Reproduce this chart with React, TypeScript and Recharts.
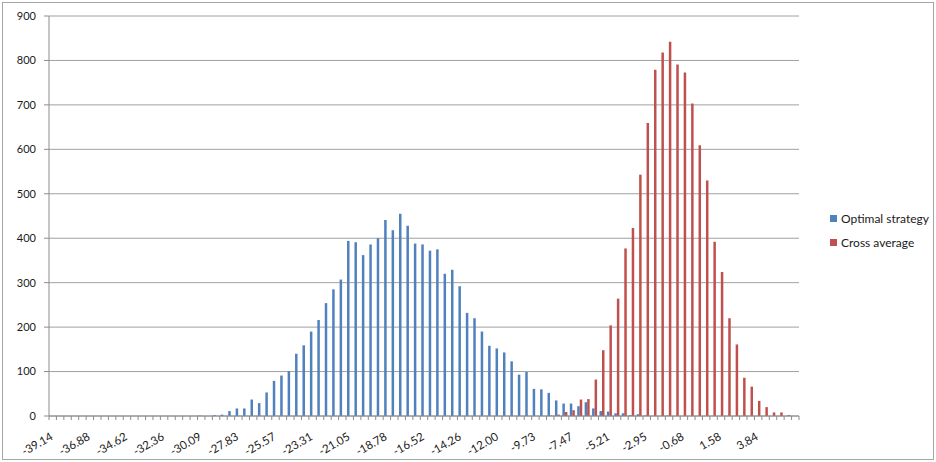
import { BarChart, Bar, XAxis, YAxis, CartesianGrid } from "recharts";

const categories = [
  "-39.14", "-38.69", "-38.24", "-37.78", "-37.33", "-36.88", "-36.43", "-35.97", "-35.52", "-35.07",
  "-34.62", "-34.16", "-33.71", "-33.26", "-32.81", "-32.36", "-31.90", "-31.45", "-31.00", "-30.54",
  "-30.09", "-29.64", "-29.19", "-28.74", "-28.28", "-27.83", "-27.38", "-26.93", "-26.47", "-26.02",
  "-25.57", "-25.12", "-24.66", "-24.21", "-23.76", "-23.31", "-22.85", "-22.40", "-21.95", "-21.50",
  "-21.05", "-20.59", "-20.14", "-19.69", "-19.23", "-18.78", "-18.33", "-17.88", "-17.42", "-16.97",
  "-16.52", "-16.07", "-15.61", "-15.16", "-14.71", "-14.26", "-13.80", "-13.35", "-12.90", "-12.45",
  "-12.00", "-11.54", "-11.09", "-10.64", "-10.19", "-9.73", "-9.28", "-8.83", "-8.38", "-7.92",
  "-7.47", "-7.02", "-6.57", "-6.11", "-5.66", "-5.21", "-4.76", "-4.30", "-3.85", "-3.40",
  "-2.95", "-2.49", "-2.04", "-1.59", "-1.14", "-0.68", "-0.23", "0.22", "0.67", "1.13",
  "1.58", "2.03", "2.48", "2.94", "3.39", "3.84", "4.29", "4.74", "5.20", "5.65",
  "6.10",
];

const optimal = [
  0, 0, 0, 0, 0, 0, 0, 0, 0, 0,
  0, 0, 0, 0, 0, 0, 0, 0, 0, 0,
  1, 0, 2, 3, 11, 17, 17, 37, 29, 53,
  79, 91, 101, 140, 159, 190, 216, 254, 285, 307,
  394, 391, 362, 386, 400, 441, 418, 455, 428, 388,
  386, 372, 375, 320, 329, 292, 232, 220, 190, 158,
  152, 143, 123, 93, 99, 61, 60, 52, 35, 28,
  28, 22, 31, 17, 11, 10, 6, 6, 2, 4,
  1, 0, 0, 1, 0, 0, 0, 0, 0, 0,
  0, 0, 0, 0, 0, 0, 0, 0, 0, 0,
  0,
];

const crossAvg = [
  0, 0, 0, 0, 0, 0, 0, 0, 0, 0,
  0, 0, 0, 0, 0, 0, 0, 0, 0, 0,
  0, 0, 0, 0, 0, 0, 0, 0, 0, 0,
  0, 0, 0, 0, 0, 0, 0, 0, 0, 0,
  0, 0, 0, 0, 0, 0, 0, 0, 0, 0,
  0, 0, 0, 0, 0, 0, 0, 0, 0, 0,
  0, 0, 0, 0, 0, 0, 0, 1, 3, 9,
  13, 37, 38, 82, 148, 204, 264, 377, 423, 543,
  659, 779, 818, 842, 791, 773, 703, 609, 530, 392,
  324, 220, 161, 86, 66, 34, 20, 8, 8, 2,
  0,
];

const yTicks = [0, 100, 200, 300, 400, 500, 600, 700, 800, 900];
const seriesNames = ["Optimal strategy", "Cross average"];
const seriesColors = ["#4F81BD", "#C0504D"];

const data = categories.map((c, i) => ({ bin: c, optimal: optimal[i], cross: crossAvg[i] }));

const FONT = "Lato, 'Liberation Sans', sans-serif";
const AXIS = "#8c8c8c";
const STEP = 750 / categories.length;

const XTick = (props: any) => {
  const { x, y, payload } = props;
  const i = payload.index;
  const half = payload.offset || STEP / 2;
  const lx = x + 1;
  const ly = y + 23;
  return (
    <g>
      <line x1={x - half} x2={x - half} y1={y} y2={y + 4} stroke={AXIS} />
      {i === categories.length - 1 && (
        <line x1={x + half} x2={x + half} y1={y} y2={y + 4} stroke={AXIS} />
      )}
      {i % 5 === 0 && i < categories.length - 1 && (
        <g transform={`translate(${lx},${ly}) rotate(-30)`}>
          <text x={0} y={0} textAnchor="end" fontSize={11.5} fontFamily={FONT} fill="#1a1a1a">
            {payload.value}
          </text>
        </g>
      )}
    </g>
  );
};

export default function App() {
  return (
    <div style={{ position: "absolute", left: 0, top: 0, width: 936, height: 462, background: "#fff", fontFamily: FONT }}>
      <div
        style={{
          position: "absolute",
          left: 2,
          top: 2,
          width: 930,
          height: 456,
          border: "1px solid #a6a6a6",
        }}
      />
      <BarChart
        width={936}
        height={462}
        data={data}
        margin={{ top: 16, right: 137, left: 0, bottom: 16 }}
        barGap={0}
        barSize={2.5}
      >
        <CartesianGrid vertical={false} stroke="#a0a0a0" />
        <XAxis
          dataKey="bin"
          interval={0}
          height={30}
          tickLine={false}
          tickSize={0}
          tickMargin={0}
          axisLine={{ stroke: AXIS }}
          tick={<XTick />}
        />
        <YAxis
          width={49}
          domain={[0, 900]}
          ticks={yTicks}
          tickSize={5}
          tickMargin={8}
          axisLine={{ stroke: AXIS }}
          tickLine={{ stroke: AXIS }}
          tick={{ fontSize: 11, fill: "#1a1a1a", fontFamily: FONT }}
        />
        <Bar dataKey="optimal" name={seriesNames[0]} fill={seriesColors[0]} isAnimationActive={false} />
        <Bar dataKey="cross" name={seriesNames[1]} fill={seriesColors[1]} isAnimationActive={false} />
      </BarChart>
      <div style={{ position: "absolute", left: 830, top: 211, fontSize: 12, color: "#1a1a1a", lineHeight: "15px" }}>
        {seriesNames.map((n, i) => (
          <div key={n} style={{ display: "flex", alignItems: "center", marginBottom: i === 0 ? 9 : 0 }}>
            <span style={{ width: 7, height: 7, background: seriesColors[i], marginRight: 4, display: "inline-block" }} />
            <span>{n}</span>
          </div>
        ))}
      </div>
    </div>
  );
}
